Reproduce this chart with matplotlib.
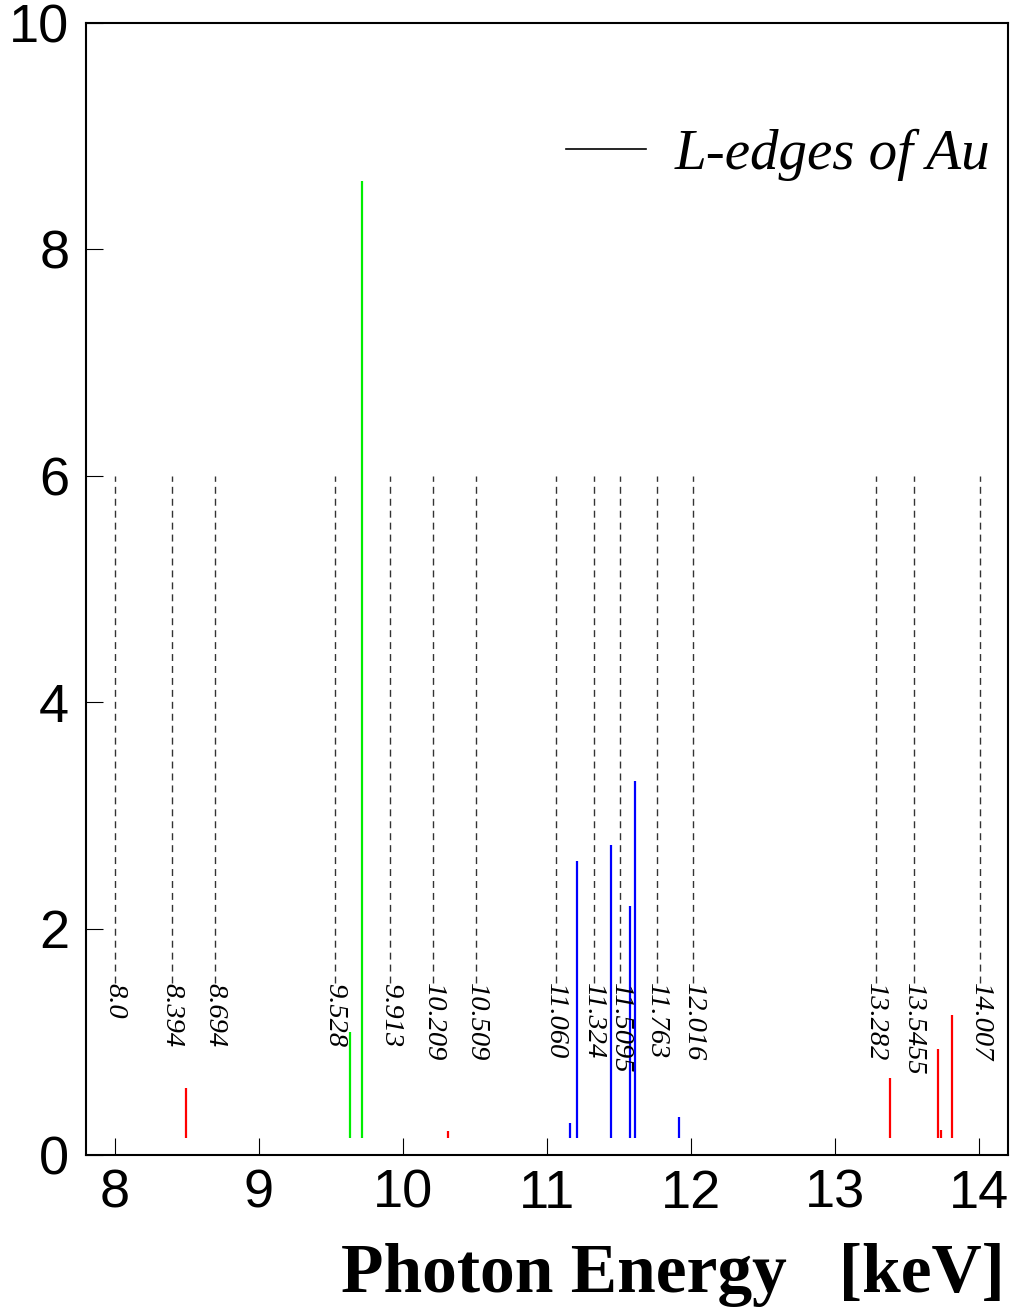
import matplotlib
matplotlib.use("Agg")
import matplotlib.pyplot as plt
from matplotlib.lines import Line2D

# L-edge energies of Au (keV) and their labels
edge_energies = [8.0, 8.394, 8.694, 9.528, 9.913, 10.209, 10.509, 11.060,
                 11.324, 11.5095, 11.763, 12.016, 13.282, 13.5455, 14.007]
edge_labels = ["8.0", "8.394", "8.694", "9.528", "9.913", "10.209", "10.509",
               "11.060", "11.324", "11.5095", "11.763", "12.016", "13.282",
               "13.5455", "14.007"]

# emission lines (energy keV, intensity)
red_energies = [8.496, 10.312, 13.380, 13.711, 13.732, 13.810]
red_heights = [0.59, 0.21, 0.68, 0.94, 0.22, 1.24]
green_energies = [9.630, 9.716]
green_heights = [1.09, 8.60]
blue_energies = [11.159, 11.208, 11.444, 11.576, 11.612, 11.916]
blue_heights = [0.28, 2.60, 2.74, 2.20, 3.30, 0.34]

x_ticks = [8, 9, 10, 11, 12, 13, 14]
y_ticks = [0, 2, 4, 6, 8, 10]

fig = plt.figure(figsize=(10.13, 13.15), dpi=100)
ax = fig.add_axes([86/1013, 1 - 1155/1315, (1008-86)/1013, (1155-23)/1315])
ax.set_xlim(7.8, 14.2)
ax.set_ylim(0, 10)

base = 0.15
ax.vlines(red_energies, base, red_heights, colors="#ff0000", lw=1.6)
ax.vlines(green_energies, base, green_heights, colors="#00ee00", lw=1.6)
ax.vlines(blue_energies, base, blue_heights, colors="#0000ff", lw=1.6)

label_top = 1.52
ax.vlines(edge_energies, label_top, 6, colors="0.2", lw=1.0,
          linestyles=(0, (5, 3.6)))
for e, lab in zip(edge_energies, edge_labels):
    ax.text(e, label_top, lab, rotation=-90, ha="center", va="top",
            family="Liberation Serif", style="italic", fontsize=20.5)

ax.set_xticks(x_ticks)
ax.set_yticks(y_ticks)
ax.set_xticklabels([str(t) for t in x_ticks])
ax.set_yticklabels([str(t) for t in y_ticks])
ax.tick_params(direction="in", length=12, width=0.8, labelsize=39,
               top=False, right=False)
ax.tick_params(axis="x", pad=10)
ax.tick_params(axis="y", pad=12)
for lbl in ax.get_xticklabels() + ax.get_yticklabels():
    lbl.set_family("Liberation Sans")
for s in ax.spines.values():
    s.set_linewidth(1.5)

handle = Line2D([], [], color="black", lw=1.2)
ax.legend([handle], ["L-edges of Au"], loc="upper right",
          bbox_to_anchor=(0.9805, 0.907), frameon=False,
          prop={"family": "Liberation Serif", "style": "italic", "size": 41},
          handlelength=1.4, handletextpad=0.5, borderpad=0, borderaxespad=0)

fig.text(1005/1013, 1 - 1292/1315, "Photon Energy   [keV]", ha="right",
         va="baseline", family="Liberation Serif", weight="bold", fontsize=50)

fig.savefig("out.png", dpi=100)
